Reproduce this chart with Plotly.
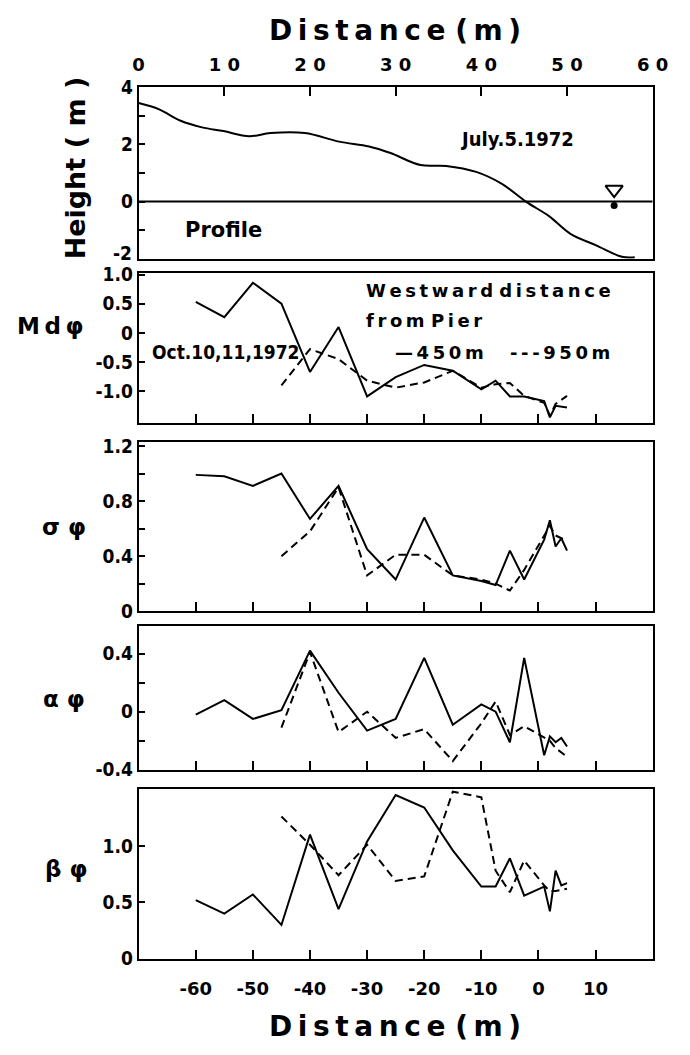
import plotly.graph_objects as go

# ---- beach profile, July 5 1972 (top axis: distance from back of beach, m)
profile_x = [0, 2.4, 4.9, 7.4, 9.9, 12.9, 15.4, 19.4, 23.4, 26.9, 29.4, 32.9,
             35.9, 39.4, 42.4, 45.2, 47.9, 50.4, 53.4, 56.4, 57.9]
profile_h = [3.45, 3.23, 2.83, 2.6, 2.47, 2.29, 2.4, 2.4, 2.1, 1.93, 1.7, 1.28,
             1.25, 1.04, 0.62, 0.0, -0.51, -1.13, -1.53, -1.93, -1.95]
water_level_x = 55.5

# ---- grain-size parameters, Oct 10-11 1972 (bottom axis: distance, m)
stations_450 = [-60, -55, -50, -45, -40, -35, -30, -25, -20, -15, -10, -7.5,
                -5, -2.5, 1, 2, 3, 4, 5]
stations_950 = [-45, -40, -35, -30, -25, -20, -15, -10, -7.5, -5, -2.5, 1, 2, 3, 5]

md_450 = [0.53, 0.27, 0.86, 0.5, -0.67, 0.1, -1.09, -0.76, -0.55, -0.65, -0.97,
          -0.82, -1.09, -1.09, -1.17, -1.45, -1.25, -1.26, -1.28]
md_950 = [-0.9, -0.28, -0.45, -0.82, -0.94, -0.85, -0.65, -0.94, -0.88, -0.86,
          -1.08, -1.2, -1.42, -1.22, -1.08]

sigma_450 = [0.99, 0.98, 0.91, 1.0, 0.67, 0.91, 0.45, 0.23, 0.68, 0.26, 0.22,
             0.19, 0.44, 0.23, 0.52, 0.66, 0.47, 0.53, 0.44]
sigma_950 = [0.40, 0.58, 0.9, 0.26, 0.41, 0.41, 0.26, 0.23, 0.2, 0.15, 0.3,
             0.55, 0.62, 0.55, 0.51]

alpha_450 = [-0.02, 0.08, -0.05, 0.01, 0.42, 0.13, -0.13, -0.05, 0.37, -0.09,
             0.05, 0.0, -0.21, 0.37, -0.3, -0.17, -0.21, -0.18, -0.24]
alpha_950 = [-0.11, 0.41, -0.14, 0.0, -0.18, -0.12, -0.34, -0.08, 0.07, -0.16,
             -0.1, -0.18, -0.2, -0.25, -0.31]

beta_450 = [0.52, 0.40, 0.57, 0.30, 1.10, 0.44, 1.04, 1.45, 1.34, 0.96, 0.64,
            0.64, 0.89, 0.56, 0.64, 0.42, 0.78, 0.65, 0.67]
beta_950 = [1.26, 1.01, 0.74, 1.01, 0.69, 0.73, 1.48, 1.43, 0.78, 0.59, 0.87,
            0.65, 0.6, 0.6, 0.62]

x_ticks_bottom = [-60, -50, -40, -30, -20, -10, 0, 10]
x_ticks_top = [0, 10, 20, 30, 40, 50, 60]

W, H = 690, 1055
FONT = "DejaVu Sans"
FONT_C = "DejaVu Sans Condensed"
TS = "\u2009"  # thin space used to open up the lettering


def spaced(s):
    return TS.join(s)


def fx(p):
    return p / W


def fy(p):
    return 1 - p / H


X_DOM = [fx(137), fx(668)]
panels = {  # pixel top, pixel bottom
    1: (78, 253),
    2: (268, 421),
    3: (440, 613),
    4: (628, 775),
    5: (795, 968),
}

fig = go.Figure()

line_solid = dict(color="black", width=2)
line_dash = dict(color="black", width=2, dash="8px,5px")

# profile
fig.add_trace(go.Scatter(x=profile_x, y=profile_h, mode="lines",
                         line=dict(color="black", width=2, shape="spline"),
                         xaxis="x", yaxis="y", showlegend=False))
fig.add_trace(go.Scatter(x=[0, 60], y=[0, 0], mode="lines", line=line_solid,
                         xaxis="x", yaxis="y", showlegend=False))
fig.add_trace(go.Scatter(x=[water_level_x], y=[0.42], mode="markers",
                         marker=dict(symbol="triangle-down-open", size=15,
                                     color="black", line=dict(width=2)),
                         xaxis="x", yaxis="y", showlegend=False))
fig.add_trace(go.Scatter(x=[water_level_x], y=[-0.14], mode="markers",
                         marker=dict(symbol="circle", size=7, color="black"),
                         xaxis="x", yaxis="y", showlegend=False))

series = [
    (2, md_450, md_950),
    (3, sigma_450, sigma_950),
    (4, alpha_450, alpha_950),
    (5, beta_450, beta_950),
]
for k, v450, v950 in series:
    fig.add_trace(go.Scatter(x=stations_450, y=v450, mode="lines", line=line_solid,
                             xaxis=f"x{k}", yaxis=f"y{k}", showlegend=False))
    fig.add_trace(go.Scatter(x=stations_950, y=v950, mode="lines", line=line_dash,
                             xaxis=f"x{k}", yaxis=f"y{k}", showlegend=False))

xtick_font = dict(family=FONT, size=18, color="black", weight="bold")
ytick_font = dict(family=FONT_C, size=19, color="black", weight="bold")
axis_common = dict(showline=True, mirror=True, linecolor="black", linewidth=2,
                   showgrid=False, zeroline=False, ticks="inside",
                   tickcolor="black", tickwidth=2)

layout = dict(
    width=W, height=H, margin=dict(l=0, r=0, t=0, b=0),
    paper_bgcolor="white", plot_bgcolor="white", showlegend=False,
)

# top panel axes; the lowest height label is set as a note just above its
# tick so it clears the "1.0" of the panel below
layout["xaxis"] = dict(axis_common, domain=X_DOM, range=[0, 60], side="top",
                       anchor="y", tickvals=x_ticks_top, tickfont=xtick_font,
                       ticktext=[" ".join(str(t)) for t in x_ticks_top],
                       ticklen=9, ticklabelstandoff=7)
layout["yaxis"] = dict(axis_common, domain=[fy(panels[1][1]), fy(panels[1][0])],
                       range=[-2, 4], anchor="x", tickfont=ytick_font,
                       tickvals=[-2, -1, 0, 1, 2, 3, 4],
                       ticktext=["", "", "0", "", "2", "", "4"], ticklen=6)

y_specs = {
    2: dict(range=[-1.55, 1.02], tickvals=[-1.0, -0.5, 0, 0.5, 1.0],
            ticktext=["-1.0", "-0.5", "0", "0.5", "1.0"]),
    3: dict(range=[0, 1.23], tickvals=[0, 0.2, 0.4, 0.6, 0.8, 1.0, 1.2],
            ticktext=["0", "", "0.4", "", "0.8", "", "1.2"]),
    4: dict(range=[-0.4, 0.59], tickvals=[-0.4, -0.2, 0, 0.2, 0.4],
            ticktext=["-0.4", "", "0", "", "0.4"]),
    5: dict(range=[0, 1.5], tickvals=[0, 0.5, 1.0],
            ticktext=["0", "0.5", "1.0"]),
}
for k in range(2, 6):
    top, bot = panels[k]
    layout[f"xaxis{k}"] = dict(axis_common, domain=X_DOM, range=[-70, 20],
                               anchor=f"y{k}", tickvals=x_ticks_bottom,
                               ticktext=[str(t) for t in x_ticks_bottom],
                               tickfont=xtick_font,
                               showticklabels=(k == 5), ticklen=9,
                               ticklabelstandoff=13)
    layout[f"yaxis{k}"] = dict(axis_common, domain=[fy(bot), fy(top)],
                               anchor=f"x{k}", ticklen=6, tickfont=ytick_font,
                               **y_specs[k])

title_font = dict(family=FONT, size=28, color="black", weight="bold")
height_font = dict(family=FONT, size=27, color="black", weight="bold")
label_font = dict(family=FONT, size=23, color="black", weight="bold")
note_font = dict(family=FONT, size=18, color="black", weight="bold")
profile_font = dict(family=FONT, size=21, color="black", weight="bold")
small_font = dict(family=FONT_C, size=19, color="black", weight="bold")
july_font = dict(family=FONT_C, size=20, color="black", weight="bold")


def paper_text(text, x, y, font, **kw):
    return dict(text=text, x=fx(x), y=fy(y), xref="paper", yref="paper",
                xanchor=kw.pop("xanchor", "center"), yanchor="middle",
                showarrow=False, font=font, **kw)


def data_text(text, x, y, k, font, xanchor="left"):
    ax = "" if k == 1 else str(k)
    return dict(text=text, x=x, y=y, xref=f"x{ax}", yref=f"y{ax}",
                xanchor=xanchor, yanchor="middle", showarrow=False, font=font)


annotations = [
    paper_text(spaced("Distance") + " " + spaced("(m)"), 402, 20, title_font),
    paper_text(spaced("Distance") + " " + spaced("(m)"), 402, 1037, title_font),
    paper_text("Height ( m )", 72, 160, height_font, textangle=-90),
    paper_text("-2", 132, 247, ytick_font, xanchor="right"),
    paper_text(spaced("Mdφ"), 46, 322, label_font),
    paper_text("σ φ", 60, 527, label_font),
    paper_text("α φ", 60, 703, label_font),
    paper_text("β φ", 62, 876, label_font),
    # profile panel notes
    data_text("July.5.1972", 44.2, 2.2, 1, july_font, xanchor="center"),
    data_text("Profile", 9.9, -1.0, 1, profile_font, xanchor="center"),
    # Md panel notes / key
    data_text(spaced("Westward") + " " + spaced("distance"), -30.5, 0.73, 2, note_font),
    data_text(spaced("from") + " " + spaced("Pier"), -30.5, 0.21, 2, note_font),
    data_text(spaced("—450m"), -25.5, -0.33, 2, note_font),
    data_text(spaced("---950m"), -5.3, -0.33, 2, note_font),
    data_text("Oct.10,11,1972", -68, -0.33, 2, small_font),
]
layout["annotations"] = annotations

fig.update_layout(**layout)
fig.write_html("out.html")
